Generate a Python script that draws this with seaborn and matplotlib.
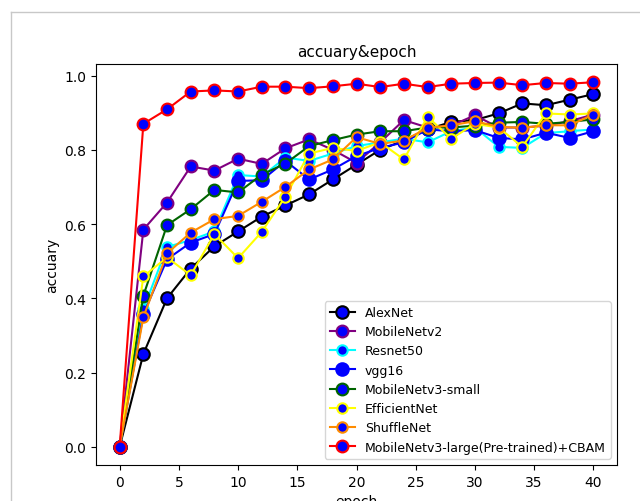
import matplotlib
matplotlib.use("Agg")
import matplotlib.pyplot as plt
from matplotlib.lines import Line2D
import seaborn as sns
import pandas as pd

epochs = list(range(0, 41, 2))

alexnet = [0, 0.25, 0.40, 0.48, 0.54, 0.58, 0.62, 0.65, 0.68, 0.72, 0.76,
           0.80, 0.825, 0.855, 0.875, 0.88, 0.898, 0.925, 0.92, 0.935, 0.95]
mobilenetv2 = [0, 0.585, 0.658, 0.755, 0.744, 0.776, 0.762, 0.804, 0.828, 0.80, 0.765,
               0.82, 0.88, 0.86, 0.865, 0.893, 0.86, 0.86, 0.865, 0.877, 0.895]
resnet50 = [0, 0.37, 0.538, 0.557, 0.58, 0.732, 0.728, 0.779, 0.77, 0.79, 0.81,
            0.82, 0.83, 0.82, 0.85, 0.86, 0.808, 0.805, 0.845, 0.85, 0.855]
vgg16 = [0, 0.357, 0.505, 0.55, 0.573, 0.716, 0.718, 0.77, 0.72, 0.747, 0.783,
         0.805, 0.82, 0.855, 0.85, 0.853, 0.832, 0.828, 0.846, 0.832, 0.85]
mnv3_small = [0, 0.407, 0.597, 0.64, 0.692, 0.685, 0.733, 0.763, 0.81, 0.826, 0.841,
              0.85, 0.85, 0.86, 0.86, 0.865, 0.873, 0.875, 0.87, 0.875, 0.882]
efficientnet = [0, 0.459, 0.51, 0.462, 0.573, 0.508, 0.579, 0.674, 0.79, 0.805, 0.797,
                0.82, 0.774, 0.889, 0.83, 0.87, 0.86, 0.808, 0.898, 0.895, 0.898]
shufflenet = [0, 0.349, 0.521, 0.577, 0.613, 0.622, 0.66, 0.70, 0.747, 0.774, 0.834,
              0.816, 0.825, 0.859, 0.866, 0.877, 0.862, 0.859, 0.866, 0.866, 0.895]
mnv3_large_cbam = [0, 0.87, 0.909, 0.957, 0.96, 0.957, 0.97, 0.97, 0.966, 0.971, 0.978,
                   0.969, 0.978, 0.969, 0.978, 0.98, 0.981, 0.974, 0.98, 0.978, 0.982]

series_names = ["AlexNet", "MobileNetv2", "Resnet50", "vgg16", "MobileNetv3-small",
                "EfficientNet", "ShuffleNet", "MobileNetv3-large(Pre-trained)+CBAM"]
series_values = [alexnet, mobilenetv2, resnet50, vgg16, mnv3_small,
                 efficientnet, shufflenet, mnv3_large_cbam]
line_colors = ["black", "purple", "cyan", "blue", "darkgreen", "yellow", "darkorange", "red"]
marker_sizes = [9, 8.5, 7.5, 9, 8.5, 7.5, 7.5, 8.5]

fig = plt.figure(figsize=(6.4, 5.02), dpi=100)
ax = fig.add_axes([96 / 640, 1 - 466 / 502, (617 - 96) / 640, (466 - 65) / 502])

for name, vals, col, ms in zip(series_names, series_values, line_colors, marker_sizes):
    df = pd.DataFrame({"epoch": epochs, "acc": vals})
    sns.lineplot(data=df, x="epoch", y="acc", ax=ax, color=col, marker="o",
                 markersize=ms, markerfacecolor="blue", markeredgecolor=col,
                 markeredgewidth=1.5, linewidth=1.5, label=name)

ax.set_title("accuary&epoch", fontsize=11)
ax.set_xlabel("epoch", fontsize=10)
ax.set_ylabel("accuary", fontsize=10)
ax.set_xticks([0, 5, 10, 15, 20, 25, 30, 35, 40])
ax.set_yticks([0.0, 0.2, 0.4, 0.6, 0.8, 1.0])
ax.tick_params(labelsize=10)
ax.legend(loc="lower right", fontsize=9)

# screenshot frame
fig.add_artist(Line2D([11 / 640, 1], [1 - 13 / 502, 1 - 13 / 502], color="#c8c8c8", linewidth=1))
fig.add_artist(Line2D([11 / 640, 11 / 640], [0, 1 - 13 / 502], color="#c8c8c8", linewidth=1))

fig.savefig("out.png", dpi=100)
